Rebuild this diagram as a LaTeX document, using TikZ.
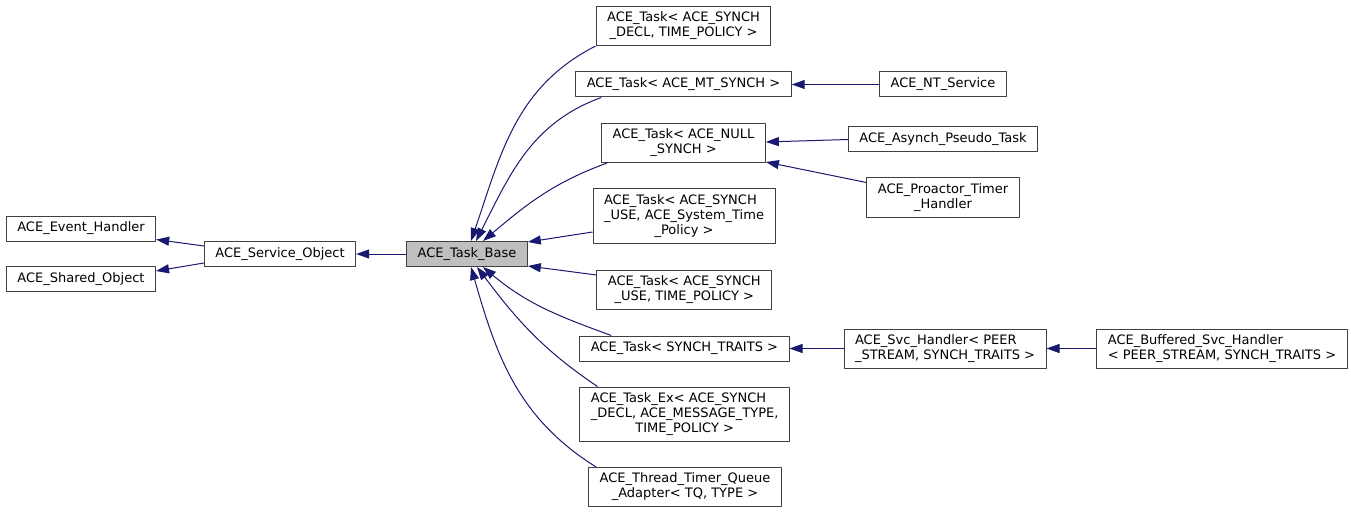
\documentclass[tikz,border=0pt]{standalone}
\usepackage{fontspec}
\setmainfont{DejaVu Sans}
\usetikzlibrary{arrows.meta}
\definecolor{edgeblue}{HTML}{191970}
\definecolor{boxline}{HTML}{404040}
\definecolor{basegray}{HTML}{BFBFBF}
% first lines flush left, last line centred
\newcommand{\clslines}[2]{\begin{tabular}{@{}l@{}}#1\\\multicolumn{1}{@{}c@{}}{#2}\end{tabular}}
\tikzset{
  cls/.style={draw=boxline,line width=1pt,fill=white,align=center,
    inner xsep=11pt,inner ysep=5.5pt,minimum height=25pt,
    font=\fontsize{13}{15}\selectfont},
  clsm/.style={cls,inner ysep=4.5pt},
  inh/.style={edgeblue,line width=1pt,-{Triangle[length=13pt,width=9pt]}},
}
\begin{document}
\begin{tikzpicture}[x=1pt,y=-1pt,line join=bevel,]
 \useasboundingbox (0,0) rectangle (1351,513);

 \node (node_event_handler) at (81,228.5) [cls] {ACE\_Event\_Handler};
 \node (node_shared_object) at (81,279) [cls] {ACE\_Shared\_Object};
 \node (node_service_object) at (280,254) [cls] {ACE\_Service\_Object};
 \node (node_task_base) at (467,254) [cls,fill=basegray] {ACE\_Task\_Base};

 \node (node_task_decl) at (683.5,26) [clsm] {\clslines{ACE\_Task< ACE\_SYNCH}{\_DECL, TIME\_POLICY >}};
 \node (node_task_mt) at (683.5,84.5) [cls] {ACE\_Task< ACE\_MT\_SYNCH >};
 \node (node_task_null) at (683.5,143) [clsm] {\clslines{ACE\_Task< ACE\_NULL}{\_SYNCH >}};
 \node (node_task_systime) at (684,216) [clsm] {\clslines{ACE\_Task< ACE\_SYNCH\\\_USE, ACE\_System\_Time}{\_Policy >}};
 \node (node_task_time) at (684.3,289.5) [clsm] {\clslines{ACE\_Task< ACE\_SYNCH}{\_USE, TIME\_POLICY >}};
 \node (node_task_traits) at (684.4,348.5) [cls] {ACE\_Task< SYNCH\_TRAITS >};
 \node (node_task_ex) at (684.7,414) [clsm] {\clslines{ACE\_Task\_Ex< ACE\_SYNCH\\\_DECL, ACE\_MESSAGE\_TYPE,}{TIME\_POLICY >}};
 \node (node_timer_adapter) at (685,487) [clsm] {\clslines{ACE\_Thread\_Timer\_Queue}{\_Adapter< TQ, TYPE >}};

 \node (node_nt_service) at (943,84.5) [cls] {ACE\_NT\_Service};
 \node (node_pseudo_task) at (943,139.5) [cls] {ACE\_Asynch\_Pseudo\_Task};
 \node (node_timer_handler) at (943,197.5) [clsm] {\clslines{ACE\_Proactor\_Timer}{\_Handler}};
 \node (node_svc_handler) at (945,348.5) [clsm] {\clslines{ACE\_Svc\_Handler< PEER}{\_STREAM, SYNCH\_TRAITS >}};
 \node (node_buffered) at (1222,348.5) [clsm] {\clslines{ACE\_Buffered\_Svc\_Handler}{< PEER\_STREAM, SYNCH\_TRAITS >}};

  \draw [inh] ([yshift=8pt]node_service_object.west) -- ([yshift=2pt]node_event_handler.south east);
  \draw [inh] ([yshift=-9pt]node_service_object.west) -- ([yshift=-5pt]node_shared_object.north east);
  \draw [inh] (node_task_base) -- (node_service_object);

  \draw [inh] (node_task_decl.south west) to[out=207,in=71] ([xshift=4pt]node_task_base.north);
  \draw [inh] ([xshift=26pt]node_task_mt.south west) to[out=200,in=63] ([xshift=9pt]node_task_base.north);
  \draw [inh] ([xshift=6pt]node_task_null.south west) to[out=200,in=40] ([xshift=16pt]node_task_base.north);
  \draw [inh] ([yshift=-16pt]node_task_systime.west) -- ([yshift=-1pt]node_task_base.north east);
  \draw [inh] ([yshift=14.5pt]node_task_time.west) -- ([yshift=1pt]node_task_base.south east);
  \draw [inh] ([xshift=32pt]node_task_traits.north west) to[out=160,in=-40] ([xshift=16pt]node_task_base.south);
  \draw [inh] ([xshift=18pt]node_task_ex.north west) to[out=146,in=-53] ([xshift=10pt]node_task_base.south);
  \draw [inh] ([xshift=8pt]node_timer_adapter.north west) to[out=148,in=-74] ([xshift=4pt]node_task_base.south);

  \draw [inh] (node_nt_service) -- (node_task_mt);
  \draw [inh] (node_pseudo_task.west) -- ([yshift=1pt]node_task_null.east);
  \draw [inh] ([yshift=-5pt]node_timer_handler.north west) -- ([yshift=1pt]node_task_null.south east);
  \draw [inh] (node_svc_handler) -- (node_task_traits);
  \draw [inh] (node_buffered) -- (node_svc_handler);
\end{tikzpicture}
\end{document}
